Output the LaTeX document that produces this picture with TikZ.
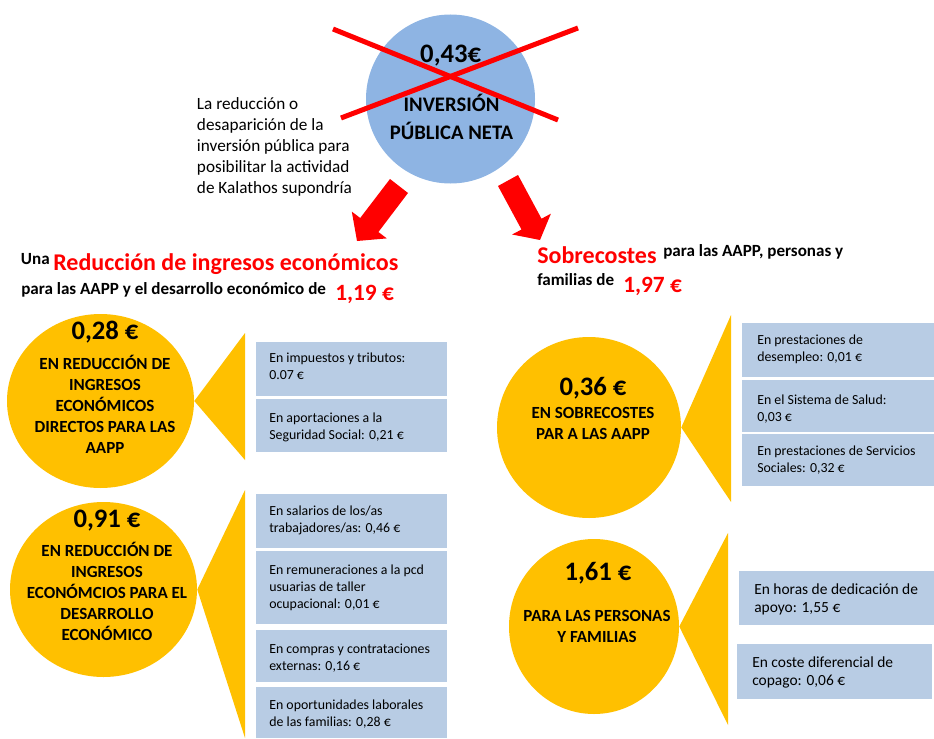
\documentclass[tikz,border=0pt]{standalone}
\usepackage{fontspec}
\setmainfont{Carlito}
\usetikzlibrary{shapes.geometric}
\definecolor{cYel}{RGB}{255,192,0}
\definecolor{cBox}{RGB}{184,204,228}
\definecolor{cBlue}{RGB}{142,180,227}
\definecolor{cRed}{RGB}{255,0,0}
\begin{document}
\begin{tikzpicture}[x=0.75pt,y=-0.75pt,
  bubble/.style={ellipse, fill=cYel, draw=none, inner sep=0pt},
  boxbg/.style={rectangle, fill=cBox, draw=none, inner sep=0pt, anchor=north west},
  boxtxt/.style={anchor=base west, inner sep=0pt, align=left, font=\fontsize{10.4}{12.75}\selectfont},
  boxtxtb/.style={anchor=base west, inner sep=0pt, align=left, font=\fontsize{11.6}{13.5}\selectfont},
  numtxt/.style={anchor=base, inner sep=0pt, font=\bfseries\fontsize{20}{24}\selectfont},
  captxt/.style={anchor=base, inner sep=0pt, align=center, font=\bfseries\fontsize{12.75}{15.75}\selectfont},
  headtxt/.style={anchor=base west, inner sep=0pt, font=\bfseries\fontsize{12.8}{15}\selectfont},
  redtxt/.style={anchor=base west, inner sep=0pt, text=cRed, font=\bfseries\fontsize{18}{21}\selectfont},
  rednum/.style={anchor=base west, inner sep=0pt, text=cRed, font=\bfseries\fontsize{17.5}{21}\selectfont},
  wedge/.style={fill=cYel, draw=none},
  bigarrow/.style={fill=cRed, draw=none},
  cross/.style={draw=cRed, line width=3.75pt}
]
\useasboundingbox (0,0) rectangle (934,738);

% ---------- top: public investment ----------
\node[circle, fill=cBlue, draw=none, inner sep=0pt, minimum size=126.75pt] (inv) at (450.5,99) {};
\node[numtxt] (invnum) at (450.7,62.7) {0,43€};
\node[anchor=base, inner sep=0pt, align=center, font=\bfseries\fontsize{15.5}{21.2}\selectfont] (invtxt) at (451.5,140) {INVERSIÓN\\PÚBLICA NETA};
\coordinate (xa1) at (333,29); \coordinate (xa2) at (558,120);
\coordinate (xb1) at (341,118); \coordinate (xb2) at (578,28);
\draw[cross] (xa1) -- (xa2);
\draw[cross] (xb1) -- (xb2);

\node[anchor=base west, inner sep=0pt, align=left, font=\fontsize{12.9}{15.8}\selectfont] (intro) at (196.7,193.5)
  {La reducción o\\desaparición de la\\inversión pública para\\posibilitar la actividad\\de Kalathos supondría};

% ---------- red arrows ----------
\fill[bigarrow] (390,179) -- (360.2,218) -- (351.8,211.6) -- (357,241) -- (386.8,238.4) -- (378.4,232) -- (408,193) -- cycle;
\fill[bigarrow] (498,186) -- (521.5,229.5) -- (512.1,234.5) -- (540,240) -- (550.9,213.7) -- (541.5,218.7) -- (518,175) -- cycle;

% ---------- headings ----------
\node[headtxt] (hUna) at (20.7,264) {Una};
\node[redtxt] (hRed) at (53,270.7) {Reducción de ingresos económicos};
\node[headtxt] (hPara) at (21,294) {para las AAPP y el desarrollo económico de};
\node[rednum] (hNum1) at (335,300) {1,19 €};

\node[redtxt] (hSob) at (537,263.3) {Sobrecostes};
\node[headtxt] (hPara2) at (663,256.7) {para las AAPP, personas y};
\node[headtxt] (hFam) at (537,285) {familias de};
\node[rednum] (hNum2) at (623,292.7) {1,97 €};

% ---------- left bubbles ----------
\node[bubble, minimum width=140.25pt, minimum height=130.5pt] (c1) at (100.5,401) {};
\fill[wedge] (c1.east) -- (245,333) -- (245,460) -- cycle;
\node[numtxt] (c1num) at (105,339) {0,28 €};
\node[captxt] (c1txt) at (105,453) {EN REDUCCIÓN DE\\INGRESOS\\ECONÓMICOS\\DIRECTOS PARA LAS\\AAPP};

\node[bubble, minimum width=140.25pt, minimum height=131.25pt] (c2) at (103.5,589.5) {};
\fill[wedge] (c2.east) -- (245,490) -- (245,738) -- cycle;
\node[numtxt] (c2num) at (107,527) {0,91 €};
\node[captxt] (c2txt) at (107,640) {EN REDUCCIÓN DE\\INGRESOS\\ECONÓMCIOS PARA EL\\DESARROLLO\\ECONÓMICO};

% ---------- left boxes ----------
\node[boxbg, minimum width=143.25pt, minimum height=40.5pt] (l1) at (256,342) {};
\node[boxbg, minimum width=143.25pt, minimum height=39.75pt] (l2) at (256,399) {};
\node[boxbg, minimum width=143.25pt, minimum height=40.5pt] (l3) at (256,494) {};
\node[boxbg, minimum width=143.25pt, minimum height=54.75pt] (l4) at (256,551) {};
\node[boxbg, minimum width=143.25pt, minimum height=39pt] (l5) at (256,630) {};
\node[boxbg, minimum width=143.25pt, minimum height=38.25pt] (l6) at (256,687) {};
\node[boxtxt] (l1t) at (269,379.3) {En impuestos y tributos:\\0.07 €};
\node[boxtxt] (l2t) at (269,439.3) {En aportaciones a la\\Seguridad Social: 0,21 €};
\node[boxtxt] (l3t) at (269,532.7) {En salarios de los/as\\trabajadores/as: 0,46 €};
\node[boxtxt] (l4t) at (269,608.3) {En remuneraciones a la pcd\\usuarias de taller\\ocupacional: 0,01 €};
\node[boxtxt] (l5t) at (269,670) {En compras y contrataciones\\externas: 0,16 €};
\node[boxtxt] (l6t) at (269,726.7) {En oportunidades laborales\\de las familias: 0,28 €};

% ---------- right bubbles ----------
\node[bubble, minimum width=138pt, minimum height=135.75pt] (c3) at (589,427.5) {};
\fill[wedge] (c3.east) -- (731,315) -- (731,502) -- cycle;
\node[numtxt] (c3num) at (593,395) {0,36 €};
\node[captxt] (c3txt) at (593,439.3) {EN SOBRECOSTES\\PAR A LAS AAPP};

\node[bubble, minimum width=127.5pt, minimum height=131.25pt] (c4) at (594,626.5) {};
\fill[wedge] (c4.east) -- (728,533) -- (728,725) -- cycle;
\node[numtxt] (c4num) at (598,580.7) {1,61 €};
\node[captxt] (c4txt) at (597,642.7) {PARA LAS PERSONAS\\Y FAMILIAS};

% ---------- right boxes ----------
\node[boxbg, minimum width=144pt, minimum height=40.5pt] (r1) at (742,323) {};
\node[boxbg, minimum width=144pt, minimum height=39pt] (r2) at (742,380) {};
\node[boxbg, minimum width=144pt, minimum height=39pt] (r3) at (742,434) {};
\node[boxbg, minimum width=146.25pt, minimum height=40.5pt] (r4) at (739,571) {};
\node[boxbg, minimum width=146.25pt, minimum height=41.25pt] (r5) at (737,644) {};
\node[boxtxt] (r1t) at (757,361) {En prestaciones de\\desempleo: 0,01 €};
\node[boxtxt] (r2t) at (757,421.7) {En el Sistema de Salud:\\0,03 €};
\node[boxtxt] (r3t) at (757,472.3) {En prestaciones de Servicios\\Sociales: 0,32 €};
\node[boxtxtb] (r4t) at (754,612) {En horas de dedicación de\\apoyo: 1,55 €};
\node[boxtxtb] (r5t) at (752,685.7) {En coste diferencial de\\copago: 0,06 €};
\end{tikzpicture}
\end{document}
